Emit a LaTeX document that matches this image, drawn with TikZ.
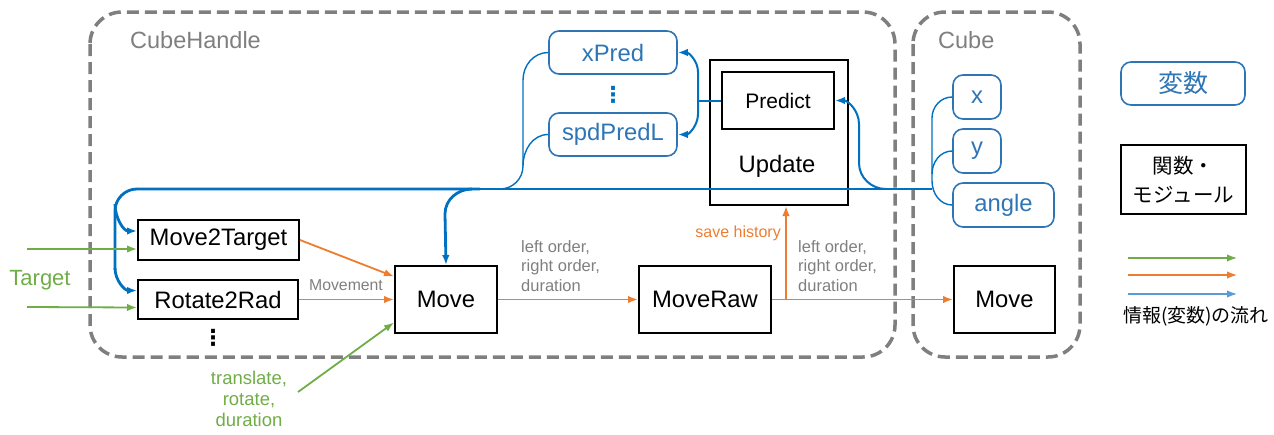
\documentclass[tikz,border=0pt]{standalone}
\usepackage{fontspec}
\setmainfont{Liberation Sans}
\newfontfamily\cjk{Noto Sans CJK JP}
\newfontfamily\dejavu{DejaVu Sans}
\usetikzlibrary{arrows.meta,calc}
\definecolor{cblue}{HTML}{0070C0}
\definecolor{bbox}{HTML}{2E75B6}
\definecolor{lblue}{HTML}{5B9BD5}
\definecolor{corange}{HTML}{ED7D31}
\definecolor{cgreen}{HTML}{70AD47}
\definecolor{cgray}{HTML}{7F7F7F}
\tikzset{
  fbox/.style={draw=black, line width=2pt, inner sep=0pt, font=\fontsize{23.8}{27}\selectfont},
  vbox/.style={draw=bbox, line width=1.6pt, rounded corners=10pt, inner sep=0pt, text=bbox, font=\fontsize{23.8}{27}\selectfont},
  dashbox/.style={draw=cgray, line width=3.5pt, dash pattern=on 12pt off 6pt, rounded corners=32pt},
  grp/.style={text=cgray, font=\fontsize{23.5}{27}\selectfont, anchor=west, inner sep=0pt},
  smallgray/.style={text=cgray, font=\fontsize{16.5}{19.5}\selectfont, align=left, inner sep=0pt},
  tip/.style={-{Latex[length=10pt,width=7.5pt]}},
  oarr/.style={draw=corange, line width=1.8pt, tip},
  garr/.style={draw=cgreen, line width=1.8pt, tip},
  bthick/.style={draw=cblue, line width=2.8pt},
  bmed/.style={draw=cblue, line width=2pt},
  bthin/.style={draw=cblue, line width=1.4pt},
  vdots/.style={font=\dejavu\bfseries\fontsize{22}{24}\selectfont, inner sep=0pt},
}
\begin{document}
\begin{tikzpicture}[x=1pt,y=-1pt]
\useasboundingbox (0,0) rectangle (1274,434);
% group boxes
\draw[dashbox] (90,12) rectangle (895,357);
\draw[dashbox] (913,12) rectangle (1080,357);
\node[grp] (lch) at (130,40) {CubeHandle};
\node[grp] (lc) at (938,40) {Cube};
% variable boxes
\node[vbox, minimum width=128pt, minimum height=43pt] (xpred) at (613,52.5) {xPred};
\node[vdots, text=cblue] (vd) at (613,95) {⋮};
\node[vbox, minimum width=128pt, minimum height=43pt] (spd) at (613,134.5) {spdPredL};
\node[vbox, minimum width=48pt, minimum height=44pt] (vx) at (977,97) {x};
\node[vbox, minimum width=48pt, minimum height=44pt] (vy) at (977,151) {y};
\node[vbox, minimum width=101pt, minimum height=44pt] (vangle) at (1003.5,205) {angle};
% function boxes
\node[fbox, minimum width=138pt, minimum height=145pt] (update) at (779,132.5) {};
\node[font=\fontsize{23.8}{27}\selectfont, inner sep=0pt] (updtxt) at (777,166) {Update};
\node[fbox, minimum width=112pt, minimum height=57pt, font=\fontsize{21}{24}\selectfont] (predict) at (778,100.5) {Predict};
\node[fbox, minimum width=161pt, minimum height=40pt] (m2t) at (218.5,240) {Move2Target};
\node[fbox, minimum width=160pt, minimum height=39pt] (rot) at (218,299.5) {Rotate2Rad};
\node[vdots] (fd) at (213,338) {⋮};
\node[fbox, minimum width=102pt, minimum height=67pt] (move) at (446,299.5) {Move};
\node[fbox, minimum width=132pt, minimum height=67pt] (moveraw) at (705,299.5) {MoveRaw};
\node[fbox, minimum width=101pt, minimum height=67pt] (cmove) at (1004.5,299.5) {Move};
% legend
\node[vbox, minimum width=124pt, minimum height=43pt, font=\cjk\fontsize{25}{28}\selectfont] (hensu) at (1183,83.5) {変数};
\node[fbox, minimum width=125pt, minimum height=69pt, align=center, font=\cjk\fontsize{20.5}{29}\selectfont] (kansu) at (1183.5,179.5) {関数・\\モジュール};
\coordinate (lg1) at (1128,258); \coordinate (lg1e) at (1237,258);
\coordinate (lg2) at (1128,275); \coordinate (lg2e) at (1237,275);
\coordinate (lg3) at (1128,294); \coordinate (lg3e) at (1237,294);
\draw[garr, line width=1.5pt] (lg1) -- (lg1e);
\draw[oarr, line width=1.5pt] (lg2) -- (lg2e);
\draw[draw=lblue, line width=1.5pt, tip] (lg3) -- (lg3e);
\node[font=\cjk\fontsize{19}{22}\selectfont, inner sep=0pt] (lgt) at (1196,316) {情報(変数)の流れ};
% blue connectors
\coordinate (br) at (932,189);
\draw[bmed] (br) -- (470,189);
\draw[bthick] (480,189) -- (137,189) to[out=180,in=90] (115,211) -- (115,270);
\draw[bthick, tip] (115,268) to[out=-90,in=180] ($(rot.west)+(0,-9)$);
\draw[bthick, tip] (115,204) to[out=-90,in=180] ($(m2t.west)+(0,-9)$);
\draw[bthick, tip] (472,189) to[out=180,in=90] (445,214) -- (move.north);
\draw[bthin] (xpred.west) to[out=180,in=90] (523,80) -- (523,166) to[out=-90,in=0] (500,189);
\draw[bthin] (spd.west) to[out=180,in=90] (523,166);
\draw[bmed] (predict.west) -- (698,100.5);
\draw[bmed, tip] (698,101) -- (698,72) to[out=90,in=0] (xpred.east);
\draw[bmed, tip] (698,100) -- (698,114) to[out=-90,in=0] (spd.east);
\draw[bmed, tip] (886,189) to[out=180,in=-90] (859,163) -- (859,124) to[out=90,in=0] (predict.east);
\draw[bthin] (vx.west) to[out=180,in=90] (932,118) -- (932,181) to[out=-90,in=180] (vangle.west);
\draw[bthin] (vy.west) to[out=180,in=90] (932,174);
% orange connectors
\draw[oarr] (m2t.east) -- ($(move.west)+(0,-23)$);
\draw[oarr] (rot.east) -- (move.west);
\draw[oarr] (move.east) -- (moveraw.west);
\draw[oarr] (moveraw.east) -- (cmove.west);
\coordinate (sh) at (786,299.5);
\draw[oarr] (sh) -- (sh |- update.south);
% green connectors
\coordinate (gt1) at (27,249);
\coordinate (gt2) at (27,307);
\coordinate (gt3) at (298,392);
\draw[garr] (gt1) -- ($(m2t.west)+(0,9)$);
\draw[garr] (gt2) -- ($(rot.west)+(0,8)$);
\draw[garr] (gt3) -- ($(move.west)+(0,23)$);
% labels
\node[text=cgreen, font=\fontsize{22}{26}\selectfont, inner sep=0pt] (ltarget) at (40,280) {Target};
\node[text=cgray, font=\fontsize{15.8}{18}\selectfont, inner sep=0pt] (lmov) at (346,285) {Movement};
\node[smallgray, anchor=west] (lo1) at (521,266) {left order,\\right order,\\duration};
\node[smallgray, anchor=west] (lo2) at (798,266) {left order,\\right order,\\duration};
\node[text=corange, font=\fontsize{16}{19}\selectfont, inner sep=0pt, anchor=east] (lsave) at (781,233) {save history};
\node[text=cgreen, font=\fontsize{18.5}{21}\selectfont, align=center, inner sep=0pt] (ltr) at (249,399) {translate,\\rotate,\\duration};
\end{tikzpicture}
\end{document}
